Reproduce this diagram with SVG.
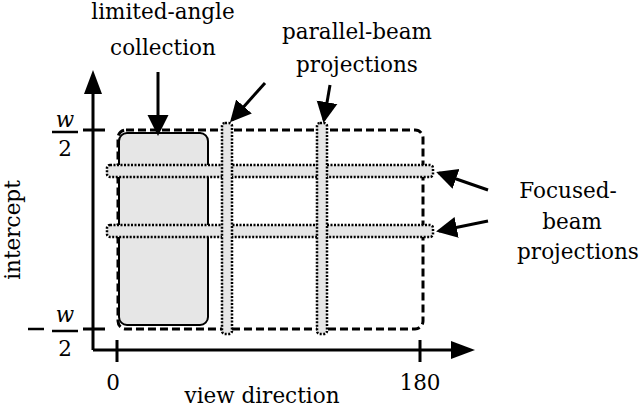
<svg xmlns="http://www.w3.org/2000/svg" width="640" height="409" viewBox="0 0 640 409">
<style>
text{font-family:"DejaVu Serif","Liberation Serif",serif;font-size:21.5px;fill:#000}
.ax{stroke:#000;stroke-width:3;fill:none}
.strip{fill:#e6e6e6;stroke:#000;stroke-width:2.5;stroke-dasharray:2 1.5}
.ar{stroke:#000;stroke-width:3;fill:none;marker-end:url(#ah)}
</style>
<defs><marker id="ah" markerWidth="8" markerHeight="8" refX="6" refY="4" orient="auto" markerUnits="strokeWidth"><path d="M0,0.5L7,4L0,7.5z" fill="#000"/></marker></defs>
<rect width="640" height="409" fill="#fff"/>
<g id="axes">
<path class="ax" d="M93,350V85M93,350H455"/>
<path d="M93,70L84,94H102z" fill="#000"/>
<path d="M475,350L451,341V359z" fill="#000"/>
<path class="ax" d="M117,340V362M420,340V362M83,130H105M83,329H105"/>
</g>
<g id="region">
<rect x="118" y="130" width="305" height="199" rx="8" fill="none" stroke="#000" stroke-width="3" stroke-dasharray="8 4"/>
<rect x="119" y="133" width="89" height="192" rx="8" fill="#e6e6e6" stroke="#000" stroke-width="2"/>
</g>
<g id="strips">
<rect class="strip" x="107" y="165" width="326" height="12" rx="3"/>
<rect class="strip" x="107" y="225" width="326" height="12" rx="3"/>
<rect class="strip" x="222" y="123" width="10" height="211" rx="3"/>
<rect class="strip" x="317" y="123" width="10" height="211" rx="3"/>
</g>
<g id="connectors">
<path class="ar" d="M158,72V133"/>
<path class="ar" d="M265,83L232,120"/>
<path class="ar" d="M330,85L324,120"/>
<path class="ar" d="M488,190L439,173"/>
<path class="ar" d="M488,221L439,231"/>
</g>
<g id="labels">
<text x="163" y="19" text-anchor="middle">limited-angle</text>
<text x="163" y="55" text-anchor="middle">collection</text>
<text x="357" y="39" text-anchor="middle">parallel-beam</text>
<text x="357" y="72" text-anchor="middle">projections</text>
<text x="568" y="198" text-anchor="middle">Focused-</text>
<text x="572" y="229" text-anchor="middle">beam</text>
<text x="578" y="259" text-anchor="middle">projections</text>
<text x="65" y="127" text-anchor="middle" font-style="italic">w</text>
<path d="M52,132H78M52,331H78M28,329H44" stroke="#000" stroke-width="2.5"/>
<text x="65" y="156" text-anchor="middle">2</text>
<text x="65" y="322" text-anchor="middle" font-style="italic">w</text>
<text x="65" y="356" text-anchor="middle">2</text>
<text x="113" y="390" text-anchor="middle">0</text>
<text x="420" y="390" text-anchor="middle">180</text>
<text x="262" y="403" text-anchor="middle">view direction</text>
<text transform="translate(20,230) rotate(-90)" text-anchor="middle">intercept</text>
</g>
</svg>
